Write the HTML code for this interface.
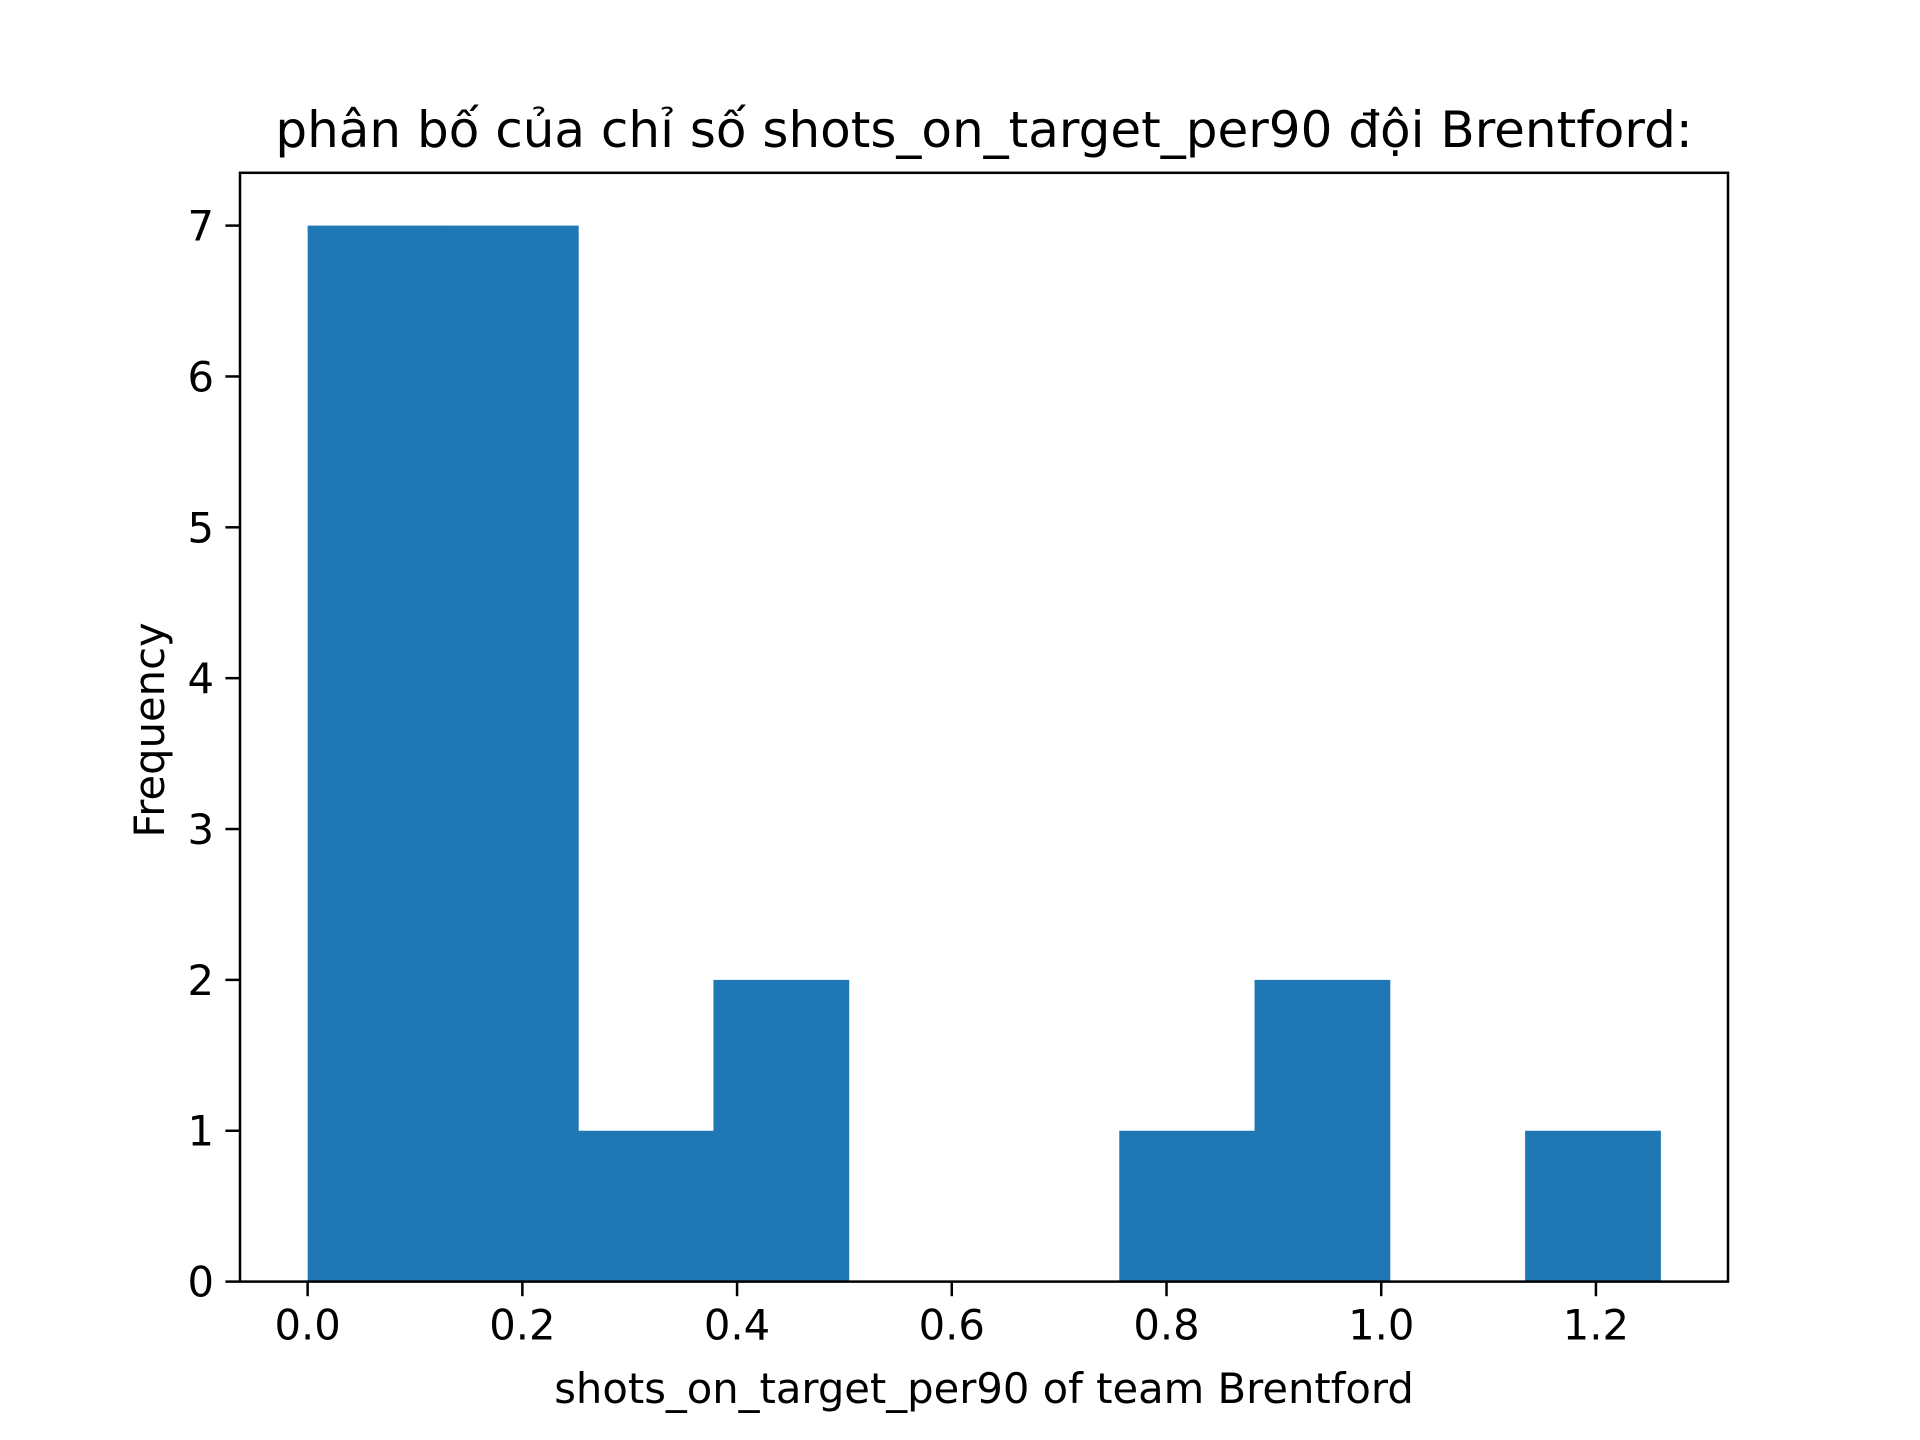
<!DOCTYPE html>
<html><head><meta charset="utf-8"><style>
html,body{margin:0;padding:0;background:#fff;}
svg{display:block;font-family:"DejaVu Sans","Liberation Sans",sans-serif;}
</style></head><body>
<svg id="chart" width="1920" height="1440">
<rect width="1920" height="1440" fill="#fff"/>
<g id="bars"></g>
<g id="ticks"></g>
<rect x="240" y="172.8" width="1488" height="1108.8" fill="none" stroke="#000" stroke-width="2.5"/>
<text x="984" y="147" text-anchor="middle" font-size="50">phân bố của chỉ số shots_on_target_per90 đội Brentford:</text>
<text x="984" y="1403" text-anchor="middle" font-size="41.7">shots_on_target_per90 of team Brentford</text>
<text transform="translate(164,730) rotate(-90)" text-anchor="middle" font-size="41.7">Frequency</text>
</svg>
<script>
const binEdges = [0,0.126,0.252,0.378,0.504,0.63,0.756,0.882,1.008,1.134,1.26];
const counts = [7,7,1,2,0,0,1,2,0,1];
const xTicks = [0,0.2,0.4,0.6,0.8,1.0,1.2];
const xTickLabels = ["0.0","0.2","0.4","0.6","0.8","1.0","1.2"];
const yTicks = [0,1,2,3,4,5,6,7];
const L=240,R=1728,T=172.8,B=1281.6;
const xMin=-0.063,xMax=1.323,yMin=0,yMax=7.35;
const sx=v=>L+(v-xMin)/(xMax-xMin)*(R-L);
const sy=v=>B-(v-yMin)/(yMax-yMin)*(B-T);
const NS="http://www.w3.org/2000/svg";
const bars=document.getElementById('bars'),ticks=document.getElementById('ticks');
counts.forEach((c,i)=>{
  if(c<=0) return;
  const r=document.createElementNS(NS,'rect');
  const x0=sx(binEdges[i]),x1=sx(binEdges[i+1]);
  r.setAttribute('x',x0);r.setAttribute('width',x1-x0+0.5);
  r.setAttribute('y',sy(c));r.setAttribute('height',sy(0)-sy(c));
  r.setAttribute('fill','#1f77b4');
  
  
  bars.appendChild(r);
});
xTicks.forEach((v,i)=>{
  const x=sx(v);
  const l=document.createElementNS(NS,'line');
  l.setAttribute('x1',x);l.setAttribute('x2',x);l.setAttribute('y1',B);l.setAttribute('y2',B+14.6);
  l.setAttribute('stroke','#000');l.setAttribute('stroke-width','2.5');
  
  
  ticks.appendChild(l);
  const t=document.createElementNS(NS,'text');
  t.setAttribute('x',x);t.setAttribute('y',B+58);t.setAttribute('text-anchor','middle');t.setAttribute('font-size','41.7');
  t.textContent=xTickLabels[i];
  
  
  ticks.appendChild(t);
});
yTicks.forEach(v=>{
  const y=sy(v);
  const l=document.createElementNS(NS,'line');
  l.setAttribute('x1',L-14.6);l.setAttribute('x2',L);l.setAttribute('y1',y);l.setAttribute('y2',y);
  l.setAttribute('stroke','#000');l.setAttribute('stroke-width','2.5');
  
  
  ticks.appendChild(l);
  const t=document.createElementNS(NS,'text');
  t.setAttribute('x',L-26);t.setAttribute('y',y+15);t.setAttribute('text-anchor','end');t.setAttribute('font-size','41.7');
  t.textContent=String(v);
  
  
  ticks.appendChild(t);
});
</script>
</body></html>
